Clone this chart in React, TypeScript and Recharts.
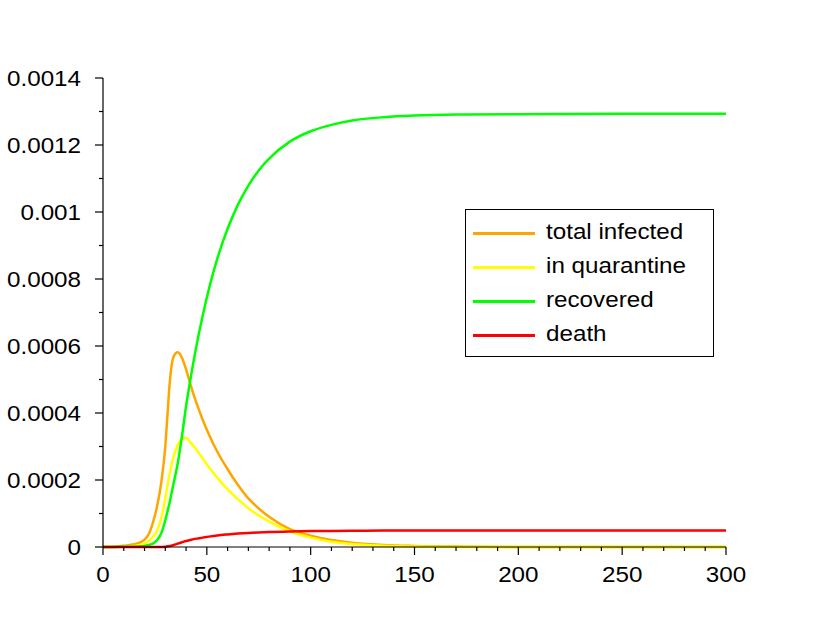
import React from 'react';
import { LineChart, Line, XAxis, YAxis } from 'recharts';

// time (days) at which the curves were sampled
const tValues = [0, 5, 10, 15, 18, 20, 22, 24, 26, 28, 30, 31, 32, 33, 34, 36, 38, 40, 42, 45, 48, 51, 55, 60, 65, 70, 75, 80, 90, 100, 110, 120, 135, 150, 175, 200, 250, 300];

const totalInfected = [0, 0.000001, 0.000004, 0.000008, 0.000014, 0.000022, 0.000038, 0.000072, 0.00012, 0.00019, 0.0003, 0.00039, 0.00048, 0.00054, 0.000568, 0.000581, 0.000565, 0.00053, 0.000488, 0.00043, 0.00038, 0.000336, 0.000285, 0.000232, 0.000185, 0.000145, 0.000115, 0.00009, 0.000053, 0.000034, 0.000021, 0.000013, 0.000006, 0.000003, 0.000001, 0, 0, 0];
const inQuarantine = [0, 0, 0.000001, 0.000003, 0.000006, 0.00001, 0.000018, 0.00003, 0.000048, 0.000085, 0.000145, 0.00018, 0.000215, 0.000245, 0.00027, 0.000305, 0.000322, 0.000326, 0.000313, 0.00029, 0.000264, 0.000238, 0.000207, 0.000172, 0.000142, 0.000116, 0.000094, 0.000076, 0.000047, 0.000028, 0.000016, 0.000009, 0.000004, 0.0000015, 0, 0, 0, 0];
const recovered = [0, 0, 0.000001, 0.000001, 0.000002, 0.000003, 0.000006, 0.00001, 0.00002, 0.00004, 0.00008, 0.000105, 0.00013, 0.00016, 0.00019, 0.00025, 0.00033, 0.00042, 0.000497, 0.0006, 0.00069, 0.00077, 0.00086, 0.00095, 0.001022, 0.001079, 0.001124, 0.001159, 0.00121, 0.001241, 0.00126, 0.001273, 0.001283, 0.001288, 0.001291, 0.001292, 0.001293, 0.001293];
const death = [0, 0, 0, 0, 0, 0, 0, 0, 0, 0, 0.000001, 0.000002, 0.000003, 0.000004, 0.000006, 0.00001, 0.000014, 0.000018, 0.000021, 0.000025, 0.000028, 0.000031, 0.0000345, 0.0000375, 0.00004, 0.000042, 0.0000435, 0.0000448, 0.0000465, 0.0000475, 0.000048, 0.0000485, 0.000049, 0.000049, 0.000049, 0.000049, 0.000049, 0.000049];

const seriesNames = ['total infected', 'in quarantine', 'recovered', 'death'];
const seriesKeys = ['infected', 'quarantine', 'recovered', 'death'];
const seriesColors = ['#ffa500', '#ffff00', '#00ff00', '#ff0000'];

const xTicks = Array.from({ length: 31 }, (_, i) => i * 10);
const yTicks = Array.from({ length: 15 }, (_, i) => i * 0.0001);
const yTickLabels = ['0', '0.0002', '0.0004', '0.0006', '0.0008', '0.001', '0.0012', '0.0014'];

const data = tValues.map((t, i) => ({
  t,
  infected: totalInfected[i],
  quarantine: inQuarantine[i],
  recovered: recovered[i],
  death: death[i]
}));

const FONT = '"Liberation Sans", Arial, Helvetica, sans-serif';

const XTick = (props: any) => {
  const { x, y, payload } = props;
  const major = payload.value % 50 === 0;
  return (
    <g>
      <line x1={x} y1={y} x2={x} y2={y + (major ? 8 : 4)} stroke="#000" strokeWidth={1.2} />
      {major && (
        <g transform={`translate(${x},${y + 35}) scale(1.1,1)`}>
          <text x={0} y={0} textAnchor="middle" fontSize={22} fontFamily={FONT} fill="#000">
            {payload.value}
          </text>
        </g>
      )}
    </g>
  );
};

const YTick = (props: any) => {
  const { x, y, index } = props;
  const major = index % 2 === 0;
  return (
    <g>
      <line x1={x} y1={y} x2={x - (major ? 8 : 4)} y2={y} stroke="#000" strokeWidth={1.2} />
      {major && (
        <g transform={`translate(${x - 22},${y + 8}) scale(1.1,1)`}>
          <text x={0} y={0} textAnchor="end" fontSize={22} fontFamily={FONT} fill="#000">
            {yTickLabels[index / 2]}
          </text>
        </g>
      )}
    </g>
  );
};

const ChartLegend = () => (
  <div
    style={{
      position: 'absolute',
      left: 465,
      top: 209,
      width: 249,
      height: 148,
      boxSizing: 'border-box',
      border: '1px solid #000',
      background: '#fff',
      fontFamily: FONT
    }}
  >
    {seriesNames.map((name, i) => (
      <div key={name} style={{ position: 'absolute', left: 0, top: 23 + i * 34 }}>
        <div
          style={{
            position: 'absolute',
            left: 7,
            top: -1,
            width: 62,
            height: 2.5,
            background: seriesColors[i]
          }}
        />
        <div
          style={{
            position: 'absolute',
            left: 80,
            top: -14,
            fontSize: 22,
            lineHeight: '26px',
            whiteSpace: 'nowrap',
            transform: 'scaleX(1.1)',
            transformOrigin: 'left center',
            color: '#000'
          }}
        >
          {name}
        </div>
      </div>
    ))}
  </div>
);

export default function App() {
  return (
    <div style={{ position: 'absolute', left: 0, top: 0, width: 830, height: 626, background: '#fff' }}>
      <LineChart width={830} height={626} data={data} margin={{ top: 78, right: 104, left: 3, bottom: 39 }}>
        <XAxis
          dataKey="t"
          type="number"
          domain={[0, 300]}
          ticks={xTicks}
          interval={0}
          height={40}
          tickSize={0}
          tickMargin={0}
          tickLine={false}
          axisLine={{ stroke: '#000', strokeWidth: 1.2 }}
          tick={<XTick />}
        />
        <YAxis
          type="number"
          domain={[0, 0.0014]}
          ticks={yTicks}
          interval={0}
          width={100}
          tickSize={0}
          tickMargin={0}
          tickLine={false}
          axisLine={{ stroke: '#000', strokeWidth: 1.2 }}
          tick={<YTick />}
        />
        {seriesKeys.map((key, i) => (
          <Line
            key={key}
            type="monotone"
            dataKey={key}
            name={seriesNames[i]}
            stroke={seriesColors[i]}
            strokeWidth={2.5}
            dot={false}
            activeDot={false}
            isAnimationActive={false}
          />
        ))}
      </LineChart>
      <ChartLegend />
    </div>
  );
}
